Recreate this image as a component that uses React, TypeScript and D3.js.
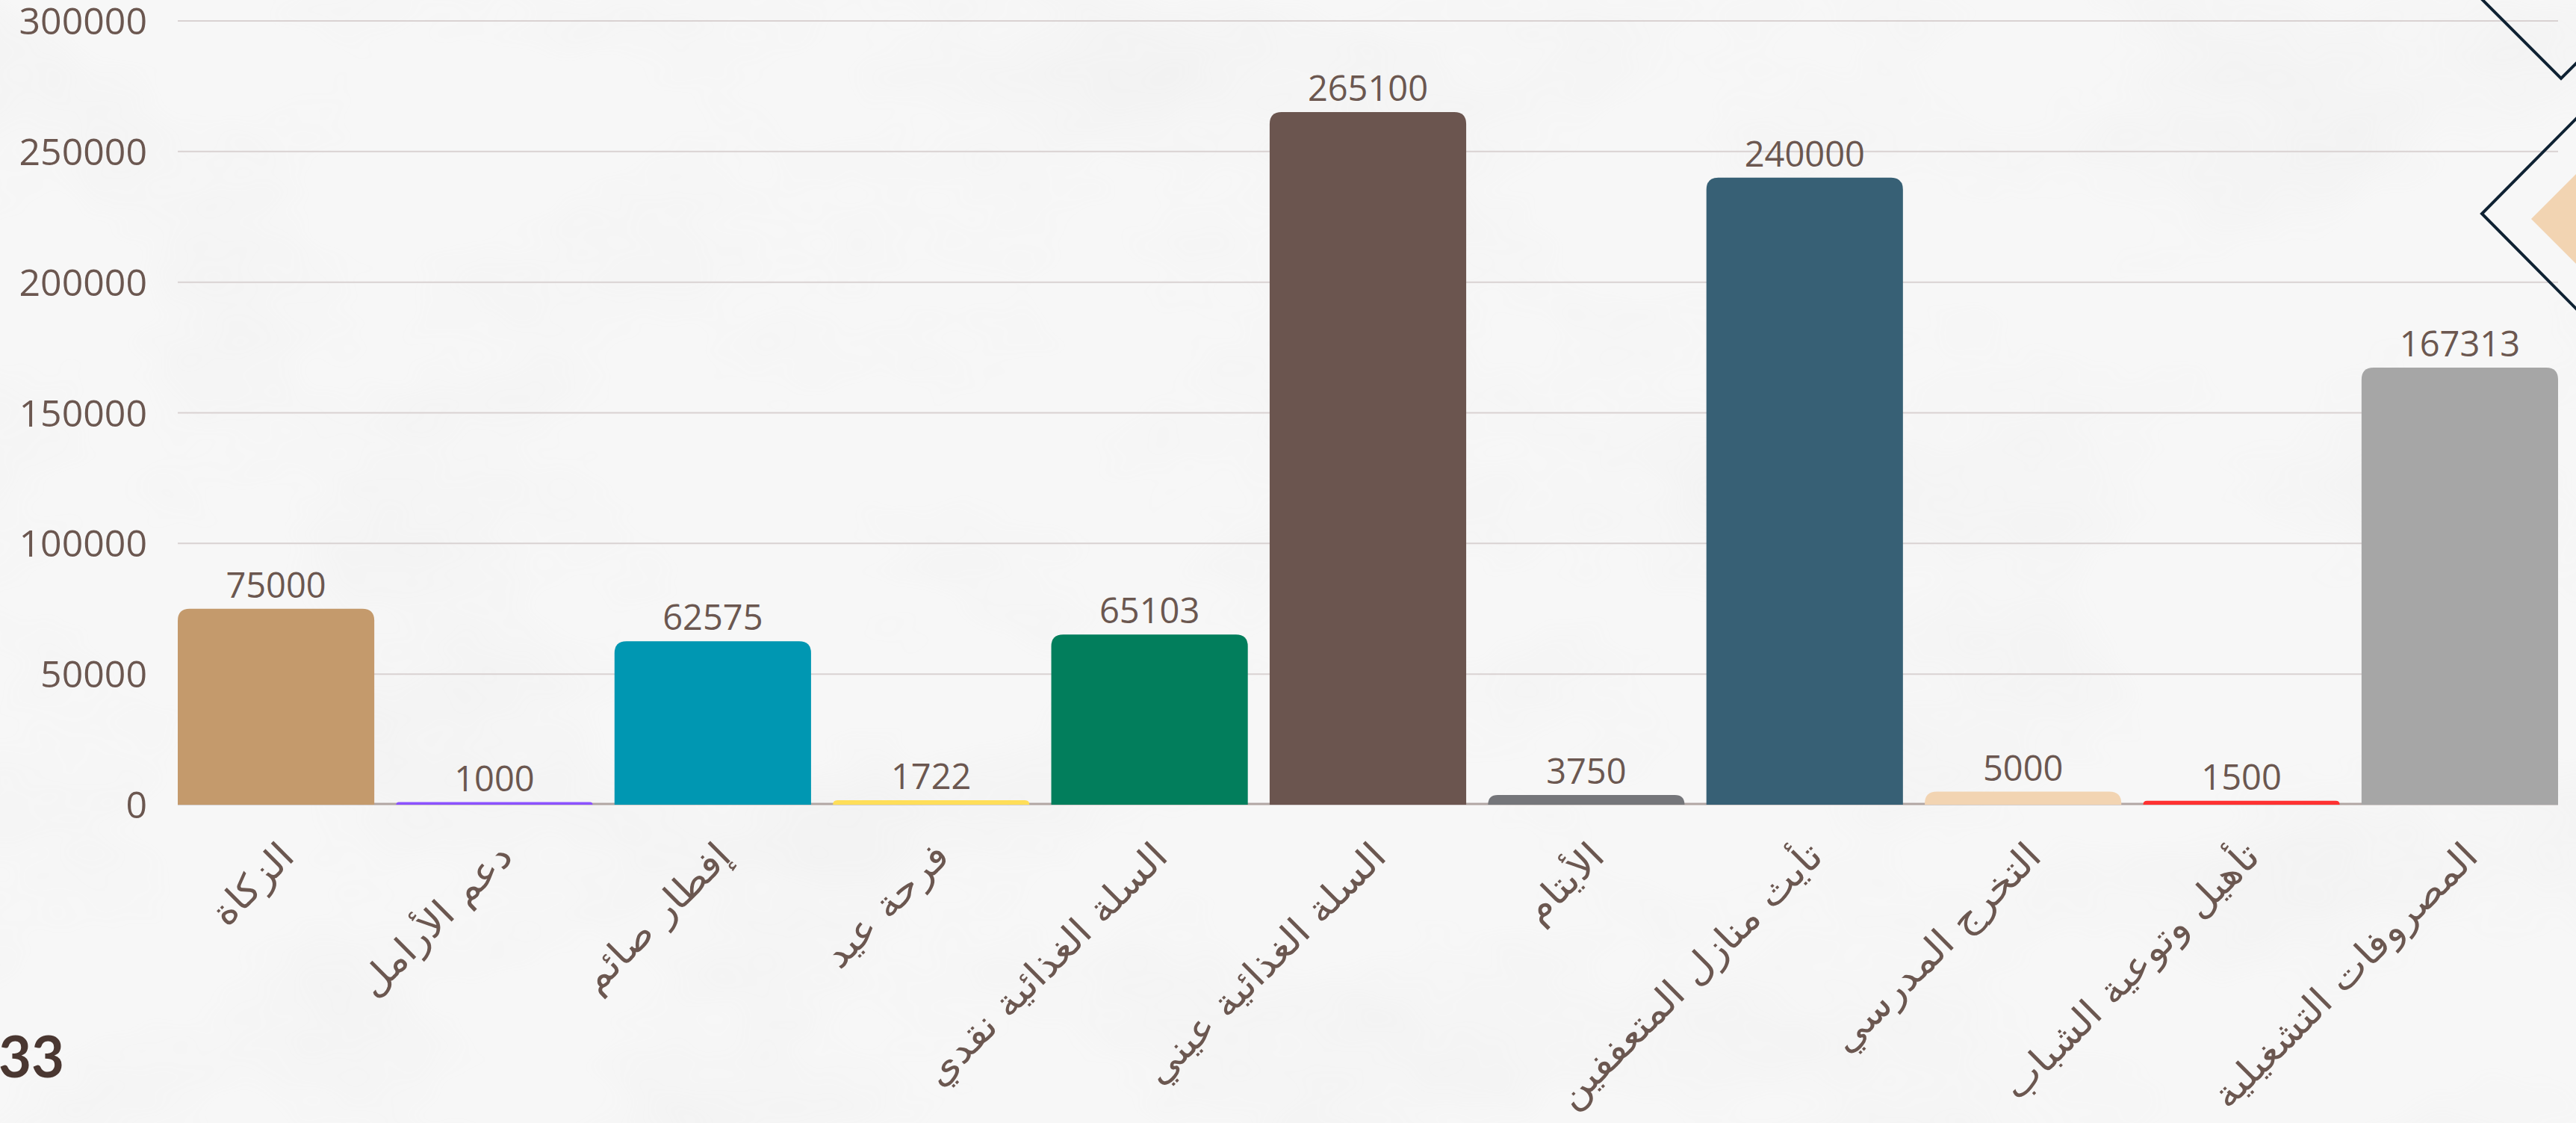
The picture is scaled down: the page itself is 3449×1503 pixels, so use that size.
import { useEffect, useRef } from "react"
import * as d3 from "d3"

const categories = [
  "الزكاة",
  "دعم الأرامل",
  "إفطار صائم",
  "فرحة عيد",
  "السلة الغذائية نقدي",
  "السلة الغذائية عيني",
  "الأيتام",
  "تأيث منازل المتعففين",
  "التخرج المدرسي",
  "تأهيل وتوعية الشباب",
  "المصروفات التشغيلية",
]
const values = [75000, 1000, 62575, 1722, 65103, 265100, 3750, 240000, 5000, 1500, 167313]
const barColors = [
  "#c49a6c",
  "#8c52ff",
  "#0097b2",
  "#ffde59",
  "#027e5c",
  "#6b554f",
  "#75767a",
  "#376075",
  "#f2d4b2",
  "#ff3131",
  "#a6a6a6",
]
const yTicks = [0, 50000, 100000, 150000, 200000, 250000, 300000]
const pageNumber = "33"

const W = 3449
const H = 1503
const textColor = "#6b5750"

// path for a bar with rounded top corners only
function topRounded(x: number, y: number, w: number, h: number, r: number) {
  const rr = Math.min(r, h, w / 2)
  return `M${x},${y + h}V${y + rr}Q${x},${y} ${x + rr},${y}H${x + w - rr}Q${x + w},${y} ${x + w},${y + rr}V${y + h}Z`
}

export default function App() {
  const svgRef = useRef<SVGSVGElement>(null)

  useEffect(() => {
    if (!svgRef.current) return
    document.body.style.margin = "0"
    const svg = d3.select(svgRef.current)
    svg.selectAll("*").remove()

    // paper background
    const defs = svg.append("defs")
    const f = defs.append("filter").attr("id", "paper").attr("x", 0).attr("y", 0).attr("width", "100%").attr("height", "100%")
    f.append("feTurbulence").attr("type", "fractalNoise").attr("baseFrequency", "0.0025 0.004").attr("numOctaves", 4).attr("seed", 7)
    f.append("feColorMatrix")
      .attr("type", "matrix")
      .attr("values", "0 0 0 0 0.55  0 0 0 0 0.55  0 0 0 0 0.55  0 0 0 -1.6 0.9")
    svg.append("rect").attr("width", W).attr("height", H).attr("fill", "#f7f7f7")
    svg.append("rect").attr("width", W).attr("height", H).attr("filter", "url(#paper)").attr("opacity", 0.12)

    const x = d3.scaleBand().domain(categories).range([238, 3425]).paddingInner(0.1).paddingOuter(0)
    const y = d3.scaleLinear().domain([0, 300000]).range([1077, 28])

    // grid
    svg.append("g")
      .selectAll("line")
      .data(yTicks.filter((t) => t > 0))
      .enter()
      .append("line")
      .attr("x1", 238)
      .attr("x2", 3425)
      .attr("y1", (d) => y(d))
      .attr("y2", (d) => y(d))
      .attr("stroke", "#d9d2d2")
      .attr("stroke-width", 2)

    // y labels
    svg.append("g")
      .selectAll("text")
      .data(yTicks)
      .enter()
      .append("text")
      .attr("x", 197)
      .attr("y", (d) => y(d))
      .attr("dy", "0.36em")
      .attr("text-anchor", "end")
      .attr("font-family", "'Open Sans', 'Noto Sans', sans-serif")
      .attr("font-size", 50)
      .attr("fill", textColor)
      .text((d) => String(d))

    // baseline
    svg.append("line")
      .attr("x1", 238)
      .attr("x2", 3425)
      .attr("y1", y(0) - 1)
      .attr("y2", y(0) - 1)
      .attr("stroke", "#b1a6a3")
      .attr("stroke-width", 3)

    const data = categories.map((c, i) => ({ name: c, value: values[i], color: barColors[i] }))

    // bars
    svg.append("g")
      .selectAll("path")
      .data(data)
      .enter()
      .append("path")
      .attr("d", (d) => topRounded(x(d.name) || 0, y(d.value), x.bandwidth(), y(0) - y(d.value), 16))
      .attr("fill", (d) => d.color)

    // value labels
    svg.append("g")
      .selectAll("text")
      .data(data)
      .enter()
      .append("text")
      .attr("x", (d) => (x(d.name) || 0) + x.bandwidth() / 2)
      .attr("y", (d) => y(d.value) - 15)
      .attr("text-anchor", "middle")
      .attr("font-family", "'Open Sans', 'Noto Sans', sans-serif")
      .attr("font-size", 47)
      .attr("fill", textColor)
      .text((d) => String(d.value))

    // x labels (rotated)
    svg.append("g")
      .selectAll("text")
      .data(data)
      .enter()
      .append("text")
      .attr(
        "transform",
        (d) => `translate(${(x(d.name) || 0) + x.bandwidth() / 2 + 27},${y(0) + 72}) rotate(-45) scale(1.08,1)`,
      )
      .attr("text-anchor", "end")
      .attr("font-family", "'DejaVu Sans', sans-serif")
      .attr("font-size", 50)
      .attr("fill", textColor)
      .text((d) => d.name)

    // page number
    svg.append("text")
      .attr("x", -2)
      .attr("y", 1442)
      .attr("font-family", "Lato, 'Noto Sans', sans-serif")
      .attr("font-weight", 700)
      .attr("font-size", 76)
      .attr("fill", "#4a3731")
      .text(pageNumber)

    // corner decoration
    const deco = svg.append("g")
    deco.append("polygon").attr("points", "3449,233 3389,293 3449,353").attr("fill", "#f2d4b2")
    deco.append("polyline")
      .attr("points", "3322,-2 3429,105 3452,82")
      .attr("fill", "none")
      .attr("stroke", "#0f2233")
      .attr("stroke-width", 4)
    deco.append("polyline")
      .attr("points", "3452,156 3323,286 3452,416")
      .attr("fill", "none")
      .attr("stroke", "#0f2233")
      .attr("stroke-width", 4)
  }, [])

  return (
    <svg
      ref={svgRef}
      width={W}
      height={H}
      style={{ position: "absolute", left: 0, top: 0, display: "block" }}
    />
  )
}
